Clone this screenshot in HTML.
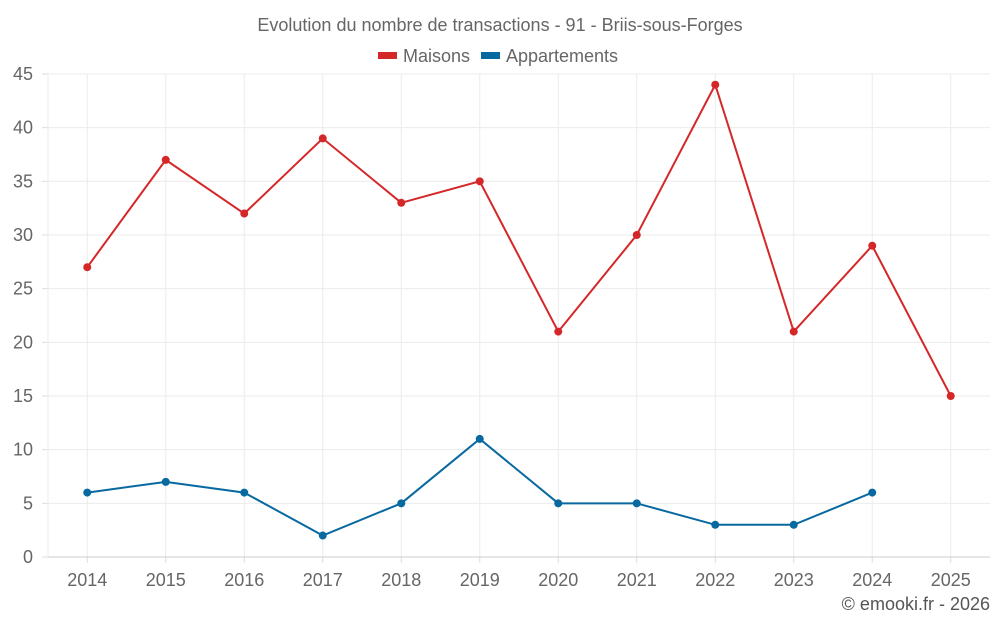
<!DOCTYPE html>
<html><head><meta charset="utf-8"><style>
body{margin:0;background:#fff;font-family:"Liberation Sans",sans-serif;}
</style></head><body>
<svg id="c" width="1000" height="625" xmlns="http://www.w3.org/2000/svg">
<text x="500" y="31" text-anchor="middle" font-size="18" fill="#666">Evolution du nombre de transactions - 91 - Briis-sous-Forges</text>
<g>
<rect x="378" y="52" width="19" height="7" fill="#d62728"/>
<text x="403" y="62" font-size="18" fill="#666">Maisons</text>
<rect x="481" y="52" width="19" height="7" fill="#0868a0"/>
<text x="506" y="62" font-size="18" fill="#666">Appartements</text>
</g>
<g id="grid"></g><g id="axes"></g><g id="series"></g>
<text x="990" y="610" text-anchor="end" font-size="18" fill="#555">© emooki.fr - 2026</text>
</svg>
<script>
const categories=["2014","2015","2016","2017","2018","2019","2020","2021","2022","2023","2024","2025"];
const maisons=[27,37,32,39,33,35,21,30,44,21,29,15];
const appartements=[6,7,6,2,5,11,5,5,3,3,6,null];
const yTicks=[0,5,10,15,20,25,30,35,40,45];
const L=48,R=990,T=74,B=557,yMax=45;
const band=(R-L)/categories.length;
const xS=i=>L+band*(i+0.5);
const yS=v=>B-(v/yMax)*(B-T);
const NS="http://www.w3.org/2000/svg";
function mk(tag,attrs,parent){const e=document.createElementNS(NS,tag);for(const k in attrs)e.setAttribute(k,attrs[k]);parent.appendChild(e);return e;}
const grid=document.getElementById('grid'),axes=document.getElementById('axes'),series=document.getElementById('series');
yTicks.forEach(v=>{
 const y=yS(v);
 if(v>0){const g=mk('line',{x1:L,x2:R,y1:y,y2:y,stroke:'#ebebeb'},grid);
 
 }
 const tk=mk('line',{x1:L-6,x2:L,y1:y,y2:y,stroke:'#ddd'},axes);
 
 
 const t=mk('text',{x:33,y:y+6,'text-anchor':'end','font-size':18,fill:'#666'},axes);
 t.textContent=v;
 
 
});
categories.forEach((c,i)=>{
 const x=xS(i);
 const g=mk('line',{x1:x,x2:x,y1:T,y2:B,stroke:'#ebebeb'},grid);
 
 
 const tk=mk('line',{x1:x,x2:x,y1:B,y2:B+6,stroke:'#ddd'},axes);
 
 
 const t=mk('text',{x:x,y:586,'text-anchor':'middle','font-size':18,fill:'#666'},axes);
 t.textContent=c;
 
 
});
const ax=mk('line',{x1:L,x2:R,y1:B,y2:B,stroke:'#ccc'},axes);


const ay=mk('line',{x1:L,x2:L,y1:T,y2:B,stroke:'#ebebeb'},axes);


function draw(data,color,name){
 const pts=[];data.forEach((v,i)=>{if(v!=null)pts.push([xS(i),yS(v)]);});
 const p=mk('polyline',{points:pts.map(p=>p.join(',')).join(' '),fill:'none',stroke:color,'stroke-width':2},series);
 
 
 pts.forEach(q=>{const c=mk('circle',{cx:q[0],cy:q[1],r:4,fill:color},series);
 
 });
}
draw(maisons,'#d62728','maisons');
draw(appartements,'#0868a0','appartements');
</script>
</body></html>
